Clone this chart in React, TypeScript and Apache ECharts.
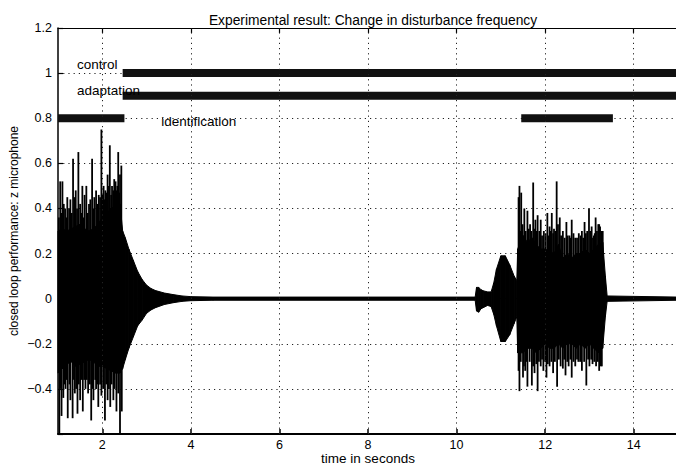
import React, { useEffect, useRef } from "react";
import * as echarts from "echarts";

// ---- axes ----
const xTicks = [2, 4, 6, 8, 10, 12, 14];
const xMin = 1;
const xMax = 15;
const yMin = -0.6;
const yMax = 1.2;
const yStep = 0.2;

// ---- signal envelope (dense oscillation body) ----
const bodyT = [1.0, 1.1, 1.2, 1.3, 1.4, 1.5, 1.6, 1.7, 1.8, 1.9, 2.0, 2.1, 2.2, 2.3, 2.4, 2.46, 2.52, 2.6, 2.7, 2.8, 2.9, 3.0, 3.1, 3.2, 3.4, 3.6, 3.8, 4.0, 4.5,
  10.42, 10.45, 10.5, 10.55, 10.6, 10.7, 10.78, 10.84, 10.9, 11.0, 11.1, 11.2, 11.3, 11.36, 11.38, 11.5, 11.6, 11.7, 11.8, 11.9, 12.0, 12.1, 12.2, 12.3, 12.4, 12.5, 12.6, 12.7, 12.8, 12.9, 13.0, 13.1, 13.2, 13.3, 13.36, 13.4, 15.0];
const bodyUpper = [0.30, 0.31, 0.30, 0.31, 0.32, 0.33, 0.31, 0.30, 0.31, 0.33, 0.36, 0.38, 0.40, 0.41, 0.42, 0.30, 0.27, 0.22, 0.17, 0.12, 0.085, 0.06, 0.045, 0.036, 0.025, 0.018, 0.012, 0.009, 0.007,
  0.007, 0.05, 0.05, 0.04, 0.035, 0.03, 0.03, 0.07, 0.13, 0.19, 0.19, 0.15, 0.10, 0.08, 0.22, 0.28, 0.25, 0.27, 0.24, 0.22, 0.22, 0.21, 0.20, 0.24, 0.18, 0.20, 0.18, 0.20, 0.20, 0.22, 0.20, 0.22, 0.24, 0.25, 0.10, 0.012, 0.007];
const bodyLower = [-0.33, -0.31, -0.29, -0.28, -0.30, -0.29, -0.28, -0.27, -0.28, -0.30, -0.30, -0.31, -0.32, -0.33, -0.33, -0.31, -0.27, -0.22, -0.17, -0.12, -0.095, -0.065, -0.05, -0.04, -0.026, -0.018, -0.012, -0.009, -0.007,
  -0.007, -0.055, -0.06, -0.045, -0.04, -0.03, -0.035, -0.07, -0.12, -0.19, -0.19, -0.16, -0.11, -0.08, -0.24, -0.24, -0.22, -0.22, -0.24, -0.22, -0.20, -0.22, -0.22, -0.20, -0.22, -0.20, -0.20, -0.22, -0.20, -0.22, -0.20, -0.22, -0.24, -0.22, -0.08, -0.012, -0.007];

// ---- individual peaks ----
const spikeUpT = [1.02, 1.05, 1.10, 1.16, 1.21, 1.28, 1.34, 1.40, 1.46, 1.50, 1.55, 1.60, 1.64, 1.70, 1.77, 1.82, 1.86, 1.92, 1.98, 2.03, 2.07, 2.12, 2.17, 2.22, 2.27, 2.32, 2.36, 2.40, 2.43,
  1.07, 1.13, 1.19, 1.25, 1.31, 1.37, 1.43, 1.53, 1.58, 1.67, 1.73, 1.80, 1.89, 1.95, 2.01, 2.05, 2.10, 2.15, 2.20, 2.25, 2.30, 2.34, 2.38,
  11.40, 11.42, 11.46, 11.53, 11.60, 11.66, 11.73, 11.78, 11.83, 11.90, 11.97, 12.05, 12.10, 12.15, 12.20, 12.26, 12.33, 12.40, 12.48, 12.55, 12.60, 12.68, 12.76, 12.83, 12.89, 12.95, 12.99, 13.05, 13.10, 13.14, 13.20, 13.24, 13.30,
  11.44, 11.49, 11.56, 11.63, 11.69, 11.75, 11.81, 11.87, 11.93, 12.01, 12.08, 12.13, 12.18, 12.23, 12.29, 12.36, 12.44, 12.51, 12.58, 12.64, 12.72, 12.80, 12.86, 12.92, 13.02, 13.08, 13.12, 13.17, 13.22, 13.27];
const spikeUpV = [0.36, 0.52, 0.52, 0.40, 0.45, 0.44, 0.62, 0.48, 0.65, 0.42, 0.50, 0.46, 0.50, 0.42, 0.62, 0.45, 0.48, 0.46, 0.75, 0.50, 0.48, 0.55, 0.68, 0.50, 0.53, 0.48, 0.65, 0.55, 0.59,
  0.38, 0.42, 0.36, 0.40, 0.38, 0.45, 0.40, 0.38, 0.36, 0.38, 0.44, 0.40, 0.42, 0.45, 0.46, 0.44, 0.47, 0.50, 0.46, 0.48, 0.52, 0.50, 0.47,
  0.45, 0.50, 0.47, 0.40, 0.39, 0.33, 0.515, 0.35, 0.37, 0.35, 0.30, 0.38, 0.32, 0.38, 0.31, 0.52, 0.36, 0.30, 0.34, 0.28, 0.35, 0.27, 0.29, 0.30, 0.34, 0.30, 0.40, 0.32, 0.28, 0.36, 0.33, 0.32, 0.30,
  0.30, 0.33, 0.30, 0.31, 0.30, 0.31, 0.30, 0.30, 0.28, 0.29, 0.28, 0.30, 0.29, 0.30, 0.33, 0.28, 0.27, 0.28, 0.27, 0.29, 0.27, 0.28, 0.27, 0.29, 0.30, 0.27, 0.29, 0.30, 0.33, 0.30];
const spikeDownT = [1.03, 1.08, 1.12, 1.17, 1.22, 1.28, 1.33, 1.38, 1.44, 1.50, 1.56, 1.62, 1.68, 1.75, 1.80, 1.86, 1.91, 1.98, 2.06, 2.12, 2.18, 2.25, 2.32, 2.40, 2.44,
  1.06, 1.15, 1.20, 1.26, 1.36, 1.41, 1.47, 1.53, 1.59, 1.65, 1.72, 1.78, 1.84, 1.89, 1.95, 2.02, 2.09, 2.15, 2.21, 2.28, 2.36,
  11.40, 11.42, 11.50, 11.55, 11.60, 11.70, 11.76, 11.83, 11.90, 11.96, 12.03, 12.10, 12.18, 12.27, 12.35, 12.40, 12.46, 12.53, 12.60, 12.68, 12.75, 12.83, 12.93, 13.00, 13.07, 13.15, 13.22, 13.28,
  11.45, 11.52, 11.58, 11.65, 11.73, 11.80, 11.86, 11.93, 12.00, 12.06, 12.14, 12.22, 12.31, 12.43, 12.50, 12.57, 12.64, 12.72, 12.79, 12.88, 12.97, 13.04, 13.11, 13.19, 13.25];
const spikeDownV = [-0.60, -0.52, -0.44, -0.40, -0.53, -0.45, -0.53, -0.42, -0.51, -0.45, -0.50, -0.40, -0.42, -0.54, -0.45, -0.40, -0.48, -0.43, -0.54, -0.45, -0.48, -0.45, -0.50, -0.60, -0.50,
  -0.40, -0.38, -0.36, -0.38, -0.36, -0.40, -0.38, -0.36, -0.36, -0.36, -0.38, -0.40, -0.36, -0.38, -0.38, -0.40, -0.38, -0.40, -0.38, -0.40, -0.42,
  -0.32, -0.41, -0.35, -0.32, -0.39, -0.385, -0.33, -0.41, -0.30, -0.32, -0.35, -0.30, -0.33, -0.39, -0.30, -0.31, -0.34, -0.30, -0.35, -0.30, -0.28, -0.32, -0.385, -0.30, -0.29, -0.30, -0.32, -0.30,
  -0.28, -0.30, -0.28, -0.28, -0.30, -0.29, -0.28, -0.27, -0.28, -0.29, -0.28, -0.28, -0.27, -0.27, -0.28, -0.27, -0.28, -0.27, -0.28, -0.28, -0.27, -0.27, -0.28, -0.28, -0.30];

// ---- mode indicator bars ----
const segStart = [2.46, 2.46, 1.0, 11.46];
const segEnd = [15, 15, 2.5, 13.53];
const segLevel = [1.0, 0.9, 0.8, 0.8];

// ---- annotations ----
const annoText = ["control", "adaptation", "identification"];
const annoX = [1.43, 1.43, 3.33];
const annoY = [1.037, 0.923, 0.787];

const FONT = "'Liberation Sans', Arial, Helvetica, sans-serif";

export default function App() {
  const ref = useRef<HTMLDivElement>(null);

  useEffect(() => {
    document.body.style.margin = "0";
    if (!ref.current) return;
    const chart = echarts.init(ref.current, undefined, { renderer: "svg" });

    const fmtY = (v: number) => {
      const r = Math.round(v * 10) / 10;
      if (Math.abs(r - yMin) < 1e-6) return "";
      if (r < 0) return "\u2212" + String(-r);
      return String(r);
    };

    const spikeRender = (params: any, api: any) => {
      const p0 = api.coord([api.value(0), 0]);
      const p1 = api.coord([api.value(0), api.value(1)]);
      return {
        type: "line",
        shape: { x1: p0[0], y1: p0[1], x2: p1[0], y2: p1[1] },
        style: { stroke: "#000", lineWidth: 1.8 },
      };
    };

    const option: any = {
      animation: false,
      backgroundColor: "#fff",
      title: {
        text: "Experimental result: Change in disturbance frequency",
        left: 368,
        top: 8,
        textAlign: "center",
        textStyle: { fontFamily: FONT, fontSize: 13.8, fontWeight: "normal", color: "#000" },
      },
      grid: { left: 58, right: -2, top: 28, bottom: 32, containLabel: false, outerBoundsMode: "none" },
      xAxis: [
        {
          type: "value",
          min: xMin,
          max: xMax,
          position: "bottom",
          name: "time in seconds",
          nameLocation: "middle",
          nameGap: 18,
          nameMoveOverlap: false,
          nameTextStyle: { fontFamily: FONT, fontSize: 13.5, color: "#000", verticalAlign: "top", lineHeight: 13 },
          axisLine: { show: true, onZero: false, lineStyle: { color: "#000", width: 2 } },
          axisTick: { show: true, inside: true, length: 5, customValues: xTicks, lineStyle: { color: "#000", width: 1.5 } },
          axisLabel: { show: true, customValues: xTicks, margin: 5, fontFamily: FONT, fontSize: 12.5, lineHeight: 12, color: "#000" },
          splitLine: { show: false },
        },
        {
          type: "value",
          min: xMin,
          max: xMax,
          position: "top",
          axisLine: { show: true, onZero: false, lineStyle: { color: "#000", width: 1.2 } },
          axisTick: { show: true, inside: true, length: 5, customValues: xTicks, lineStyle: { color: "#000", width: 1.2 } },
          axisLabel: { show: false },
          splitLine: { show: false },
        },
      ],
      yAxis: {
        type: "value",
        min: yMin,
        max: yMax,
        interval: yStep,
        name: "closed loop performance: z microphone",
        nameLocation: "middle",
        nameGap: 38,
        nameMoveOverlap: false,
        nameTextStyle: { fontFamily: FONT, fontSize: 12, color: "#000" },
        axisLine: { show: true, onZero: false, lineStyle: { color: "#000", width: 1.5 } },
        axisTick: { show: true, inside: true, length: 5, lineStyle: { color: "#000", width: 1.2 } },
        axisLabel: { formatter: fmtY, margin: 6, fontFamily: FONT, fontSize: 12.5, color: "#000" },
        splitLine: { show: true, lineStyle: { color: "#222", width: 1, type: [1.2, 4] } },
      },
      series: [
        {
          type: "line",
          z: 1,
          data: [[xMin, yMax]],
          symbol: "none",
          lineStyle: { opacity: 0 },
          silent: true,
          markLine: {
            silent: true,
            symbol: ["none", "none"],
            label: { show: false },
            lineStyle: { color: "#222", width: 1, type: [1.2, 4] },
            data: xTicks.map((v) => ({ xAxis: v })),
          },
        },
        {
          type: "custom",
          z: 3,
          silent: true,
          data: bodyT.map((t, i) => [t, bodyUpper[i], bodyLower[i]]),
          encode: { x: 0, y: [1, 2] },
          renderItem: (params: any, api: any) => {
            const i = params.dataIndex;
            if (i >= bodyT.length - 1) return { type: "group", children: [] };
            const a = api.coord([bodyT[i], bodyUpper[i]]);
            const b = api.coord([bodyT[i + 1], bodyUpper[i + 1]]);
            const c = api.coord([bodyT[i + 1], bodyLower[i + 1]]);
            const d = api.coord([bodyT[i], bodyLower[i]]);
            return {
              type: "polygon",
              shape: { points: [a, b, c, d] },
              style: { fill: "#000", stroke: "#000", lineWidth: 1 },
            };
          },
        },
        {
          type: "custom",
          z: 4,
          silent: true,
          data: spikeUpT.map((t, i) => [t, spikeUpV[i]]),
          encode: { x: 0, y: 1 },
          renderItem: spikeRender,
        },
        {
          type: "custom",
          z: 4,
          silent: true,
          data: spikeDownT.map((t, i) => [t, spikeDownV[i]]),
          encode: { x: 0, y: 1 },
          renderItem: spikeRender,
        },
        {
          type: "custom",
          z: 4,
          silent: true,
          data: segStart.map((s, i) => [s, segEnd[i], segLevel[i]]),
          encode: { x: [0, 1], y: 2 },
          renderItem: (params: any, api: any) => {
            const p0 = api.coord([api.value(0), api.value(2)]);
            const p1 = api.coord([api.value(1), api.value(2)]);
            return {
              type: "rect",
              shape: { x: p0[0], y: p0[1] - 4, width: p1[0] - p0[0], height: 8 },
              style: { fill: "#111" },
            };
          },
        },
        {
          type: "custom",
          z: 5,
          silent: true,
          data: annoX.map((x, i) => [x, annoY[i], i]),
          encode: { x: 0, y: 1 },
          renderItem: (params: any, api: any) => {
            const p = api.coord([api.value(0), api.value(1)]);
            return {
              type: "text",
              x: p[0],
              y: p[1],
              style: {
                text: annoText[api.value(2)],
                fill: "#000",
                font: "13.5px " + FONT,
                textAlign: "left",
                textVerticalAlign: "middle",
              },
            };
          },
        },
      ],
    };

    chart.setOption(option);
    return () => chart.dispose();
  }, []);

  return <div ref={ref} style={{ width: 676, height: 466 }} />;
}
